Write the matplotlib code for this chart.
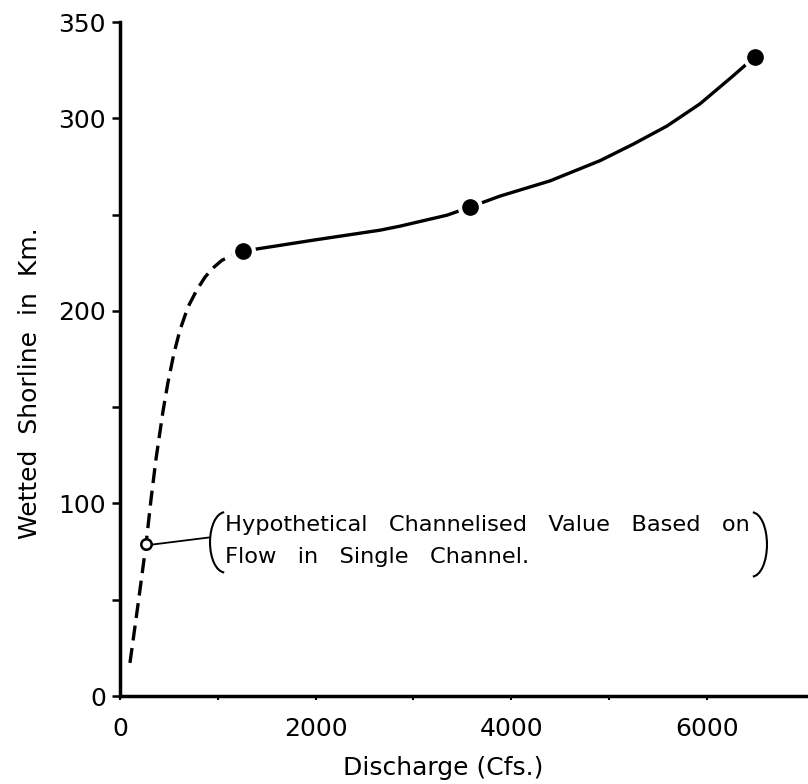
import matplotlib
matplotlib.use("Agg")
import matplotlib.pyplot as plt
from matplotlib.patches import Arc

# measured points (filled dots)
discharge_pts = [1258, 3579, 6493]
shoreline_pts = [231, 254, 332]

# hypothetical channelised value (open circle)
hypo_q = [266]
hypo_len = [78.7]

# dashed part of the curve
dash_q = [102, 184, 266, 317, 368, 440, 491, 552, 613, 695, 787, 869, 951, 1043, 1155, 1258]
dash_len = [17.2, 47.4, 78.7, 102.0, 123.0, 148.0, 163.0, 178.0, 190.0, 202.0, 211.0,
            217.5, 222.3, 226.3, 228.9, 231.0]

# solid part of the curve
solid_q = [1258, 1380, 1973, 2658, 2863, 3344, 3579, 3885, 4397, 4908, 5245, 5593, 5930, 6268, 6493]
solid_len = [231.0, 232.0, 236.7, 241.9, 244.0, 249.7, 253.9, 259.6, 267.5, 278.0, 286.5,
             296.0, 307.5, 322.0, 332.0]

x_major = [0, 2000, 4000, 6000]
x_minor = [1000, 3000, 5000]
y_major = [0, 100, 200, 300, 350]
y_minor = [50, 150, 250]

fig = plt.figure(figsize=(8.08, 7.84), dpi=100)
ax = fig.add_axes([0.1485, 0.1122, 0.8515, 0.8597])
ax.set_xlim(0, 7035)
ax.set_ylim(0, 350)

for s in ['top', 'right']:
    ax.spines[s].set_visible(False)
for s in ['left', 'bottom']:
    ax.spines[s].set_linewidth(2.5)

ax.plot(dash_q, dash_len, color='black', lw=2.4, dashes=(4.5, 2.3), zorder=2)
ax.plot(solid_q, solid_len, color='black', lw=2.4, zorder=2)

# white halo so the line stops short of the dots
ax.plot(discharge_pts, shoreline_pts, 'o', ms=17, color='white', zorder=3)
ax.plot(discharge_pts, shoreline_pts, 'o', ms=11, color='black', zorder=4)
ax.plot(hypo_q, hypo_len, 'o', ms=7.5, mfc='white', mec='black', mew=1.8, zorder=4)

# leader line and bracketed note
ax.plot([hypo_q[0] + 70, 920], [hypo_len[0], 82.4], color='black', lw=1.3, zorder=3)
ax.add_patch(Arc((1074, 79.8), 307, 31.3, theta1=118, theta2=242, color='black', lw=1.5))
ax.add_patch(Arc((6462, 78.7), 307, 33.4, theta1=-62, theta2=62, color='black', lw=1.5))
ax.text(1074, 85.5, "Hypothetical   Channelised   Value   Based   on", fontsize=16.2,
        ha='left', va='baseline')
ax.text(1074, 69.3, "Flow   in   Single   Channel.", fontsize=16.2, ha='left', va='baseline')

ax.set_xticks(x_major)
ax.set_xticks(x_minor, minor=True)
ax.set_yticks(y_major)
ax.set_yticks(y_minor, minor=True)
ax.tick_params(axis='y', which='both', direction='out', length=6, width=1.8,
               labelsize=18, pad=4)
ax.tick_params(axis='x', which='both', direction='out', length=3, width=1.5,
               labelsize=18, pad=12)

ax.set_xlabel("Discharge (Cfs.)", fontsize=18)
ax.xaxis.set_label_coords((443 - 120) / 688, -(768 - 696) / 674, transform=ax.transAxes)
ax.xaxis.label.set_va('center')
fig.text(30 / 808, 1 - 383 / 784, "Wetted  Shorline  in  Km.", rotation=90,
         fontsize=18, ha='center', va='center')

fig.savefig("out.png", dpi=100)
